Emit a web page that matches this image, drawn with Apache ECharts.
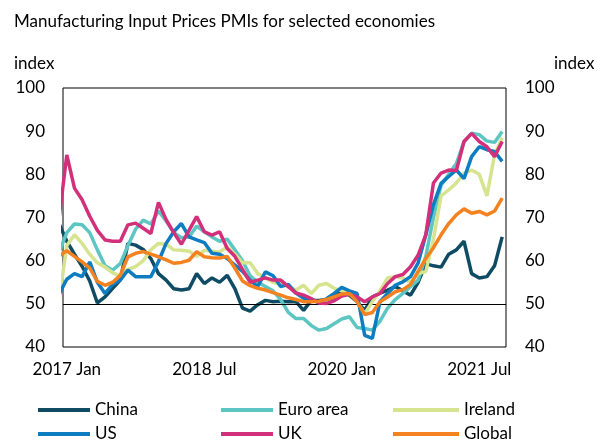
<!DOCTYPE html>
<html>
<head>
<meta charset="utf-8">
<script src="https://cdn.jsdelivr.net/npm/echarts@6/dist/echarts.min.js"></script>
<style>html,body{margin:0;padding:0;background:#fff}#c{width:597px;height:441px}</style>
</head>
<body>
<div id="c"></div>
<script>
// Month index 0 = 2017 Jan; first value is 2016 Dec (index -1), last is 2021 Oct (index 57)
const startIndex = -1;
const tickIndex = [0, 18, 36, 54];
const tickLabels = ['2017 Jan', '2018 Jul', '2020 Jan', '2021 Jul'];
const seriesNames = ['China', 'Euro area', 'Ireland', 'US', 'UK', 'Global'];

const china = [68.5,64.5,61.5,58.7,55.3,50.2,51.6,53.6,55.5,64,63.6,62.6,60.5,57,55.5,53.5,53.2,53.5,57,54.7,56,55,56.6,53.5,49,48.3,49.8,50.8,50.5,50.6,50.5,50.5,48.5,50.8,50.8,51,51.5,53,52,50.5,48.5,51.5,52.5,53.2,54,53,52,55,59.3,58.8,58.5,61.5,62.5,64.5,57,56,56.3,58.8,65.5];
const euroArea = [62,66.5,68.5,68.3,66.5,62.5,58.8,57.8,59.3,63.5,67.3,69.4,68.5,71.5,69.2,66.5,65.3,65.5,68,66.7,65.5,64.5,65,62.5,60,56.5,55,54,53,51,48,46.6,46.6,45,43.9,44.3,45.4,46.5,47,44.5,44.3,43.9,46,49,51,52.4,54,55.5,61,70,77.5,80,82.5,87.5,89.5,89.2,87.7,87.4,89.9];
const ireland = [51,63.5,66,64,61.5,59.5,58.5,57.2,56.5,58,58.6,60,62.5,64,63.8,62.5,62.4,62.2,61,62.4,62.2,62,63.2,61.5,59.5,59.5,57,56,55,54.5,54,53.2,54.3,52.4,54.3,54.7,53.6,53,52.5,50.5,47.7,50.5,53,56,56.3,56,55,57,57.5,65,75,76.4,78,80.3,81,80,75,84.5,88.5];
const us = [52.3,55.7,57,56.3,59.7,55,52.4,54.5,55.5,57.8,56.3,56.3,56.3,59.8,64,66.7,68.6,65.5,64.8,64.2,61.7,61.5,60.5,59,57.5,55.5,54,57.4,56.5,54,54.5,52.5,51.3,51.2,50.2,51.2,52.4,53.8,53,52.4,42.7,42,50.5,52.4,54.3,55.1,56.3,59.5,66,73,77.9,79.5,81,79,84.1,86.4,85.7,85.3,83];
const uk = [70,84.5,76.8,74.1,70.3,67,64.8,64.5,64.5,68.3,68.7,67.5,66.3,73.5,69.5,66.5,63.8,67,70.2,66.7,65.9,66.7,62.8,61,58,55,55.5,56,55.5,55.5,54,52.5,52,51.2,50.2,50.1,50.7,51.8,52.2,51.6,50.5,51.6,52.4,54.7,56.3,56.8,58.6,61.3,66,78,80.3,81,80.9,87.6,89.5,87.6,86.4,84.1,87.6];
const global = [61.1,62.3,61,59.7,58.3,55.2,54.3,55,56.6,60.9,61.7,62.1,61.5,60.9,60.2,59.4,59.6,60.1,62.1,60.9,60.7,60.6,61,58.3,55.3,54.2,53.6,53.2,52.6,52,51.4,51,50.5,50.5,50.6,51,51.6,52.3,52.4,50.5,47.5,48,50.5,51.6,52.8,53.3,54.5,57.5,60.5,63,66,68.6,70.6,72,71,71.4,70.6,71.5,74.5];

const colors = ['#0F4C64', '#5EC6C2', '#D6E38F', '#0D7CC1', '#D3307C', '#F58220'];
const values = [china, euroArea, ireland, us, uk, global];

function toPairs(arr) { return arr.map((v, i) => [startIndex + i, v]); }

const FONT = 'Lato';
const txt = { fontFamily: FONT, fontSize: 17, color: '#000', fontWeight: 'normal' };

const series = seriesNames.map((name, k) => ({
  name: name,
  type: 'line',
  data: toPairs(values[k]),
  showSymbol: false,
  symbol: 'none',
  clip: true,
  lineStyle: { width: 3.5, color: colors[k] },
  itemStyle: { color: colors[k] },
  animation: false,
  z: 3 + k
}));
series[0].markLine = {
  silent: true, symbol: 'none', animation: false,
  label: { show: false },
  lineStyle: { color: '#000', width: 1, type: 'solid' },
  data: [{ yAxis: 50 }]
};

// legend layout: [name, left, top, swatch width]
const legendSlots = [
  ['China', 38, 400, 52], ['Euro area', 221, 400, 52], ['Ireland', 393, 400, 66],
  ['US', 38, 424, 52], ['UK', 221, 424, 52], ['Global', 393, 424, 66]
];
const legends = legendSlots.map(s => ({
  data: [s[0]], left: s[1], top: s[2], orient: 'horizontal', padding: 0,
  icon: 'rect', itemWidth: s[3], itemHeight: 4,
  textStyle: Object.assign({}, txt, { lineHeight: 20 }),
  selectedMode: false
}));

const chart = echarts.init(document.getElementById('c'), null, { renderer: 'canvas' });
chart.setOption({
  animation: false,
  backgroundColor: '#fff',
  title: [
    { text: 'Manufacturing Input Prices PMIs for selected economies', left: 9, top: 8, textStyle: txt },
    { text: 'index', left: 9, top: 50, textStyle: txt },
    { text: 'index', left: 549, top: 50, textStyle: txt }
  ],
  legend: legends,
  grid: { left: 63, right: 91, top: 88, bottom: 94, show: true, borderColor: '#000', borderWidth: 1, backgroundColor: 'transparent' },
  xAxis: {
    type: 'value', min: -0.5, max: 57.5,
    axisLine: { show: false }, axisTick: { show: false }, splitLine: { show: false },
    axisLabel: Object.assign({}, txt, {
      margin: 14,
      customValues: tickIndex,
      formatter: function (v) { const i = tickIndex.indexOf(v); return i >= 0 ? tickLabels[i] : ''; }
    })
  },
  yAxis: [
    { type: 'value', min: 40, max: 100, interval: 10, position: 'left',
      axisLine: { show: false }, axisTick: { show: false }, splitLine: { show: false },
      axisLabel: Object.assign({}, txt, { margin: 18 }) },
    { type: 'value', min: 40, max: 100, interval: 10, position: 'right',
      axisLine: { show: false }, axisTick: { show: false }, splitLine: { show: false },
      axisLabel: Object.assign({}, txt, { margin: 19 }) }
  ],
  series: series
});
</script>
</body>
</html>
